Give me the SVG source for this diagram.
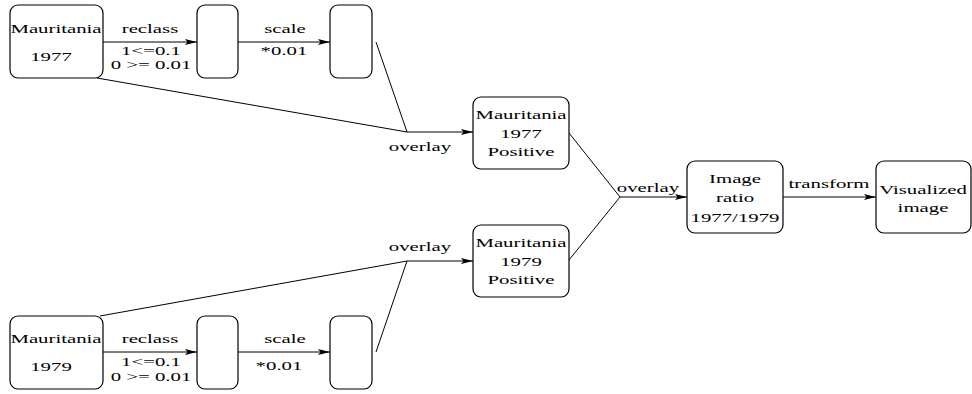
<svg xmlns="http://www.w3.org/2000/svg" width="972" height="394" viewBox="0 0 972 394">
<style>
.box{fill:#fff;stroke:#000;stroke-width:1.2}
.ln{fill:none;stroke:#000;stroke-width:1}
.ar{fill:none;stroke:#000;stroke-width:1;marker-end:url(#ah)}
.t text{font-family:'Liberation Serif','DejaVu Serif',serif;font-size:13px;fill:#000;text-anchor:middle}
</style>
<defs>
<marker id="ah" markerUnits="userSpaceOnUse" markerWidth="13" markerHeight="8" refX="12" refY="3" orient="auto">
<path d="M0,0 L12,3 L0,6 L2.5,3 z" fill="#000"/>
</marker>
</defs>
<rect width="972" height="394" fill="#fff"/>
<g id="connectors" class="t">
<line class="ar" x1="103" y1="42" x2="197" y2="42"/>
<line class="ar" x1="238" y1="42" x2="330" y2="42"/>
<line class="ln" x1="376" y1="42" x2="407" y2="132"/>
<line class="ln" x1="97" y1="78" x2="407" y2="132"/>
<line class="ar" x1="407" y1="132" x2="473" y2="132"/>
<line class="ar" x1="103" y1="352" x2="197" y2="352"/>
<line class="ar" x1="238" y1="352" x2="330" y2="352"/>
<line class="ln" x1="376" y1="352" x2="407" y2="261"/>
<line class="ln" x1="100" y1="316" x2="407" y2="261"/>
<line class="ar" x1="407" y1="261" x2="473" y2="261"/>
<line class="ln" x1="569" y1="133" x2="620" y2="197"/>
<line class="ln" x1="569" y1="260" x2="620" y2="197"/>
<line class="ar" x1="620" y1="197" x2="687" y2="197"/>
<line class="ar" x1="783" y1="197" x2="876" y2="197"/>
<text transform="translate(150,33) scale(1.6,1)">reclass</text>
<text transform="translate(151,55) scale(1.6,1)">1&lt;=0.1</text>
<text transform="translate(151,69) scale(1.6,1)">0 &gt;= 0.01</text>
<text transform="translate(285,33) scale(1.6,1)">scale</text>
<text transform="translate(284,55) scale(1.6,1)">*0.01</text>
<text transform="translate(420,151) scale(1.6,1)">overlay</text>
<text transform="translate(150,343) scale(1.6,1)">reclass</text>
<text transform="translate(151,366) scale(1.6,1)">1&lt;=0.1</text>
<text transform="translate(151,381) scale(1.6,1)">0 &gt;= 0.01</text>
<text transform="translate(285,343) scale(1.6,1)">scale</text>
<text transform="translate(279,370) scale(1.6,1)">*0.01</text>
<text transform="translate(420,251) scale(1.6,1)">overlay</text>
<text transform="translate(648,192) scale(1.6,1)">overlay</text>
<text transform="translate(829,188) scale(1.6,1)">transform</text>
</g>
<g id="m1977" class="t">
<rect class="box" x="10" y="5" width="93" height="73" rx="8"/>
<text transform="translate(56,33) scale(1.6,1)">Mauritania</text>
<text transform="translate(51,61) scale(1.6,1)">1977</text>
</g>
<g id="r1977">
<rect class="box" x="197" y="5" width="41" height="73" rx="8"/>
</g>
<g id="s1977">
<rect class="box" x="330" y="5" width="42" height="73" rx="8"/>
</g>
<g id="m1979" class="t">
<rect class="box" x="10" y="316" width="93" height="73" rx="8"/>
<text transform="translate(56,343) scale(1.6,1)">Mauritania</text>
<text transform="translate(51,371) scale(1.6,1)">1979</text>
</g>
<g id="r1979">
<rect class="box" x="197" y="316" width="41" height="73" rx="8"/>
</g>
<g id="s1979">
<rect class="box" x="330" y="316" width="42" height="73" rx="8"/>
</g>
<g id="p1977" class="t">
<rect class="box" x="473" y="97" width="96" height="72" rx="8"/>
<text transform="translate(521,119) scale(1.6,1)">Mauritania</text>
<text transform="translate(521,138) scale(1.6,1)">1977</text>
<text transform="translate(521,156) scale(1.6,1)">Positive</text>
</g>
<g id="p1979" class="t">
<rect class="box" x="473" y="225" width="96" height="72" rx="8"/>
<text transform="translate(521,247) scale(1.6,1)">Mauritania</text>
<text transform="translate(521,266) scale(1.6,1)">1979</text>
<text transform="translate(521,284) scale(1.6,1)">Positive</text>
</g>
<g id="ratio" class="t">
<rect class="box" x="687" y="161" width="96" height="72" rx="8"/>
<text transform="translate(735,183) scale(1.6,1)">Image</text>
<text transform="translate(735,202) scale(1.6,1)">ratio</text>
<text transform="translate(735,222) scale(1.6,1)">1977/1979</text>
</g>
<g id="visual" class="t">
<rect class="box" x="876" y="161" width="95" height="72" rx="8"/>
<text transform="translate(923,194) scale(1.6,1)">Visualized</text>
<text transform="translate(923,212) scale(1.6,1)">image</text>
</g>
</svg>
